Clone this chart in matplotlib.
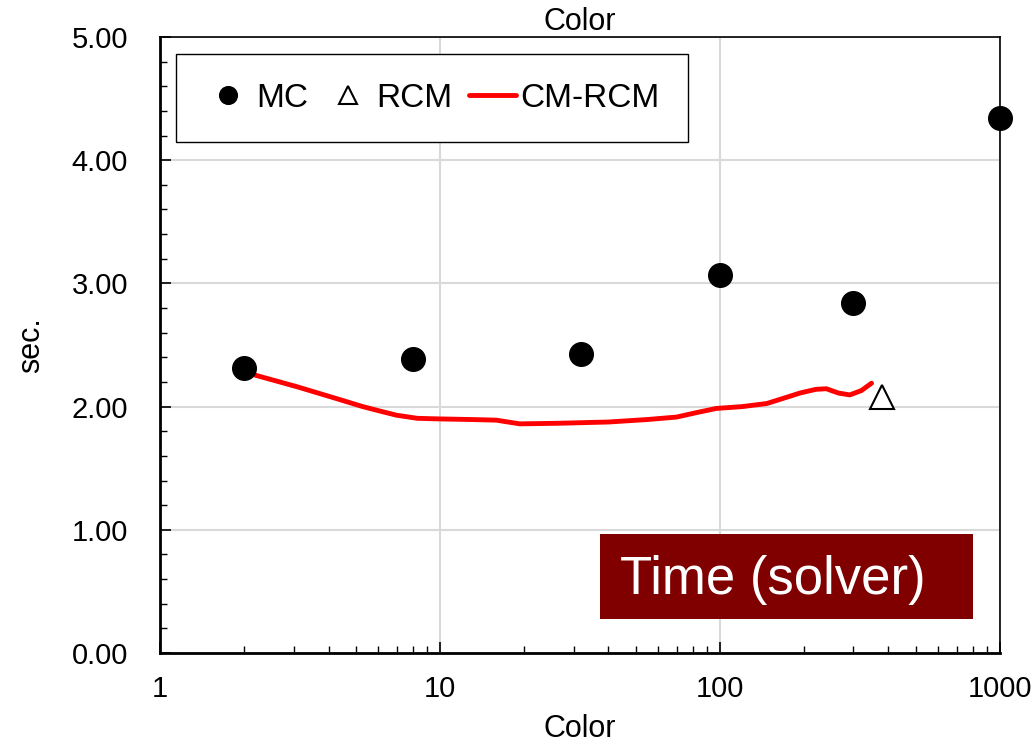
import numpy as np
import matplotlib
matplotlib.use("Agg")
import matplotlib.pyplot as plt
from matplotlib.patches import Rectangle
from matplotlib.ticker import FixedLocator, NullFormatter, MultipleLocator, FormatStrFormatter

plt.rcParams['font.family'] = ['Liberation Sans', 'DejaVu Sans']

# Datos: tiempo del solver por numero de colores
mc_color = [2, 8, 32, 100, 300, 1000]
mc_sec = [2.31, 2.39, 2.43, 3.07, 2.84, 4.34]

rcm_color = [380]
rcm_sec = [2.08]

cmrcm_color = [2, 3.1, 4.2, 5.3, 6.2, 7.0, 8.3, 10, 13, 15.9, 17.5, 19.3, 26.8, 40, 55, 70, 82,
               97, 120, 147, 170, 193, 220, 240, 265, 291, 320, 348]
cmrcm_sec = [2.28, 2.16, 2.07, 2.00, 1.96, 1.93, 1.905, 1.90, 1.895, 1.89, 1.875, 1.86, 1.865,
             1.875, 1.895, 1.915, 1.95, 1.985, 2.00, 2.025, 2.07, 2.11, 2.14, 2.145, 2.11, 2.095,
             2.13, 2.19]

fig = plt.figure(figsize=(10.34, 7.45), dpi=100)
ax = fig.add_axes([0.1547, 0.1235, 0.8123, 0.8268])

ax.plot(mc_color, mc_sec, 'o', color='black', markersize=17, label='MC', zorder=4, clip_on=False)
ax.plot(rcm_color, rcm_sec, '^', markerfacecolor='white', markeredgecolor='black',
        markersize=17, markeredgewidth=1.5, label='RCM', zorder=4, linestyle='none')
ax.plot(cmrcm_color, cmrcm_sec, '-', color='red', linewidth=3.5, label='CM-RCM', zorder=3,
        solid_capstyle='round', solid_joinstyle='round')

ax.set_xscale('log')
ax.set_xlim(1, 1000)
ax.set_ylim(0, 5)

ax.yaxis.set_major_locator(MultipleLocator(1))
ax.yaxis.set_minor_locator(MultipleLocator(0.2))
ax.yaxis.set_major_formatter(FormatStrFormatter('%.2f'))
ax.xaxis.set_major_locator(FixedLocator([1, 10, 100, 1000]))
ax.set_xticklabels(['1', '10', '100', '1000'])
minors = [m * d for d in [1, 10, 100] for m in range(2, 10)]
ax.xaxis.set_minor_locator(FixedLocator(minors))
ax.xaxis.set_minor_formatter(NullFormatter())

ax.tick_params(axis='both', which='both', direction='in', labelsize=21, colors='black')
ax.tick_params(axis='both', which='major', length=8, width=1.2)
ax.tick_params(axis='both', which='minor', length=5, width=1.0)
ax.tick_params(axis='y', which='both', right=False, pad=23)
ax.tick_params(axis='x', which='both', top=False, pad=16)

ax.grid(True, which='major', color='#d9d9d9', linewidth=1.5)
ax.set_axisbelow(True)

for side in ['left', 'bottom']:
    ax.spines[side].set_linewidth(2)
for side in ['top', 'right']:
    ax.spines[side].set_linewidth(1.2)

ax.set_xlabel('Color', fontsize=22, labelpad=8)
ax.set_ylabel('sec.', fontsize=22, labelpad=18)
ax.set_title('Color', fontsize=22, pad=-5)

leg = ax.legend(loc='upper left', bbox_to_anchor=(0.019, 0.972), ncol=3, fontsize=24,
                frameon=True, fancybox=False, edgecolor='black', framealpha=1,
                markerscale=0.75, handlelength=1.4, handletextpad=0.15, columnspacing=0.5,
                borderpad=0.85, borderaxespad=0)
leg.get_frame().set_linewidth(1.0)

# Etiqueta del grafico
ax.add_patch(Rectangle((0.524, 0.055), 0.444, 0.138, transform=ax.transAxes,
                       facecolor='#800000', edgecolor='none', zorder=5))
ax.text(0.548, 0.118, 'Time (solver)', transform=ax.transAxes, fontsize=38, color='white',
        ha='left', va='center', zorder=6)

plt.savefig('out.png', dpi=100)
